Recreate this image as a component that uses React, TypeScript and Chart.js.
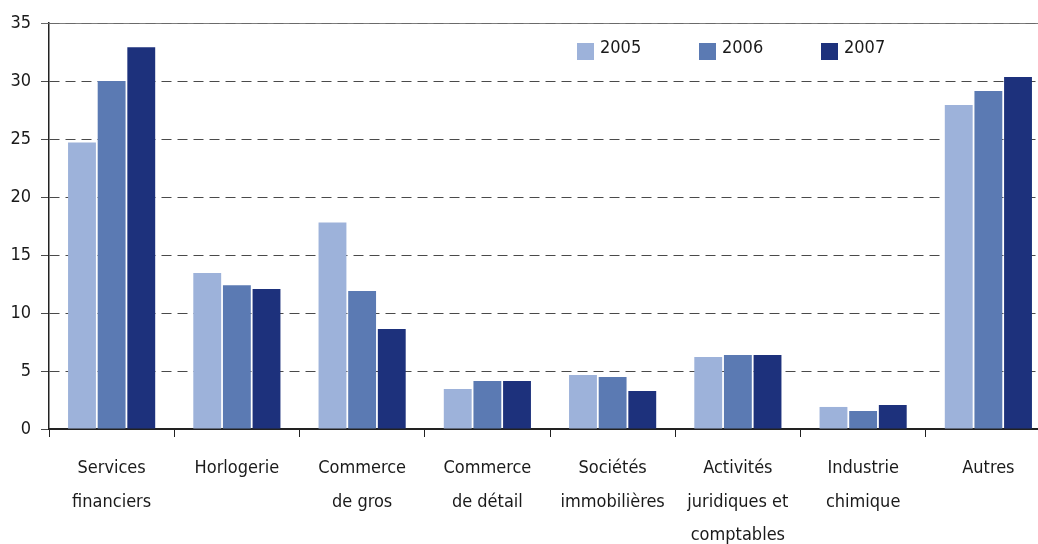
import React, { useEffect, useRef } from "react";
import { Chart, registerables } from "chart.js";

Chart.register(...registerables);

const categories: string[][] = [
  ["Services", "financiers"],
  ["Horlogerie"],
  ["Commerce", "de gros"],
  ["Commerce", "de détail"],
  ["Sociétés", "immobilières"],
  ["Activités", "juridiques et", "comptables"],
  ["Industrie", "chimique"],
  ["Autres"],
];

const seriesNames = ["2005", "2006", "2007"];
const values2005 = [24.7, 13.45, 17.8, 3.45, 4.66, 6.2, 1.9, 27.93];
const values2006 = [30.0, 12.4, 11.9, 4.14, 4.48, 6.38, 1.55, 29.14];
const values2007 = [32.9, 12.07, 8.62, 4.14, 3.28, 6.38, 2.07, 30.34];
const colors = ["#9DB2DA", "#5B7AB3", "#1D317C"];

const yTicks = [0, 5, 10, 15, 20, 25, 30, 35];

const FONT = "'Liberation Sans Narrow', 'Arial Narrow', 'DejaVu Sans Condensed', 'Liberation Sans', sans-serif";

const legendPlugin = {
  id: "insideLegend",
  afterDraw(chart: any) {
    const { ctx, chartArea } = chart;
    const yScale = chart.scales.y;
    ctx.save();
    const yTop = Math.round(yScale.getPixelForValue(35));
    ctx.strokeStyle = "rgba(110,110,110,0.9)";
    ctx.lineWidth = 1;
    ctx.beginPath();
    ctx.moveTo(chartArea.left - 8, yTop + 0.5);
    ctx.lineTo(chartArea.right, yTop + 0.5);
    ctx.stroke();
    const offsets = [528, 650, 772];
    chart.data.datasets.forEach((ds: any, i: number) => {
      const x = chartArea.left + offsets[i];
      ctx.fillStyle = ds.backgroundColor;
      ctx.fillRect(x, 43, 17, 17);
      ctx.fillStyle = "#1a1a1a";
      ctx.font = "18px " + FONT;
      ctx.textBaseline = "middle";
      ctx.textAlign = "left";
      ctx.fillText(ds.label, x + 23, 48);
    });
    ctx.restore();
  },
};

export default function App() {
  const ref = useRef<HTMLCanvasElement | null>(null);
  useEffect(() => {
    if (!ref.current) return;
    const chart = new Chart(ref.current, {
      type: "bar",
      data: {
        labels: categories,
        datasets: [values2005, values2006, values2007].map((d, i) => ({
          label: seriesNames[i],
          data: d,
          backgroundColor: colors[i],
          borderWidth: 0,
          barPercentage: 0.94,
          categoryPercentage: 0.71,
        })),
      },
      options: {
        animation: false,
        responsive: false,
        maintainAspectRatio: false,
        layout: { padding: { top: 23, right: 1, left: 0, bottom: 0 } },
        plugins: { legend: { display: false }, tooltip: { enabled: false } },
        scales: {
          x: {
            grid: {
              display: true,
              drawOnChartArea: false,
              drawTicks: true,
              tickLength: 8,
              color: "#222",
              offset: true,
            },
            border: { display: true, color: "#222", width: 2 },
            ticks: {
              color: "#1a1a1a",
              font: { family: FONT, size: 18, lineHeight: 1.85 },
              padding: 15,
              maxRotation: 0,
              autoSkip: false,
            },
            afterFit(scale: any) {
              scale.height = 544 - 429;
            },
          },
          y: {
            min: 0,
            max: 35,
            afterBuildTicks(scale: any) {
              scale.ticks = yTicks.map((v) => ({ value: v }));
            },
            grid: {
              color: "#4a4a4a",
              lineWidth: 1,
              drawTicks: true,
              tickLength: 8,
              tickColor: "#4a4a4a",
            },
            border: { display: true, color: "#222", width: 1.5, dash: [10, 6] },
            ticks: {
              color: "#1a1a1a",
              font: { family: FONT, size: 18 },
              padding: 10,
            },
            afterFit(scale: any) {
              scale.width = 49;
            },
          },
        },
      },
      plugins: [legendPlugin],
    });
    return () => chart.destroy();
  }, []);
  return (
    <div style={{ position: "fixed", left: 0, top: 0, width: 1038, height: 544, overflow: "hidden", background: "#fff" }}>
      <canvas ref={ref} width={1052} height={544} style={{ display: "block" }} />
    </div>
  );
}
